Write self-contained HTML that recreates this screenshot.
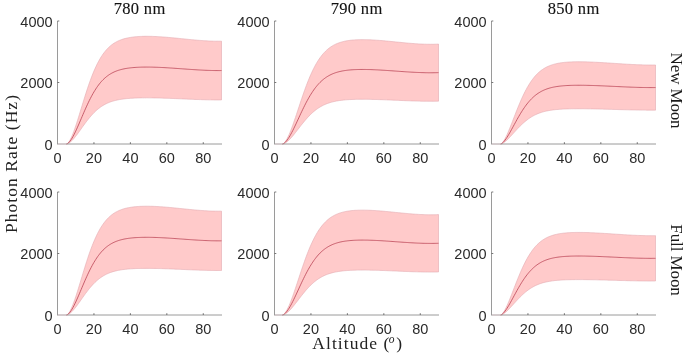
<!DOCTYPE html>
<html><head><meta charset="utf-8"><style>
html,body{margin:0;padding:0;background:#fff;}
svg{display:block;will-change:transform;}
text{-webkit-font-smoothing:antialiased;}
.t{font-family:"Liberation Sans",sans-serif;font-size:14.5px;fill:#2b2b2b;}
.s{font-family:"Liberation Serif",serif;font-size:16.5px;fill:#111;stroke:#111;stroke-width:0.12px;}
.s3{font-family:"Liberation Serif",serif;font-size:17px;fill:#1a1a1a;}
.s2{font-family:"Liberation Serif",serif;font-size:17.5px;fill:#222;}
</style></head><body>
<svg width="685" height="357" viewBox="0 0 685 357">
<rect width="685" height="357" fill="#fff"/>
<polygon points="66.41,144.00 66.61,143.97 67.52,143.43 68.43,142.48 69.34,141.19 70.26,139.62 71.17,137.81 72.08,135.77 72.99,133.55 73.90,131.17 74.81,128.63 75.72,125.98 76.63,123.23 77.54,120.39 78.46,117.49 79.37,114.54 80.28,111.56 81.19,108.57 82.10,105.58 83.01,102.60 83.92,99.64 84.83,96.72 85.74,93.84 86.66,91.02 87.57,88.26 88.48,85.57 89.39,82.95 90.30,80.41 91.21,77.95 92.12,75.58 93.03,73.29 93.94,71.10 94.86,69.00 95.77,66.98 96.68,65.06 97.59,63.23 98.50,61.49 99.41,59.84 100.32,58.27 101.23,56.79 102.14,55.38 103.06,54.06 103.97,52.81 104.88,51.64 105.79,50.53 106.70,49.49 107.61,48.52 108.52,47.61 109.43,46.75 110.34,45.95 111.26,45.21 112.17,44.51 113.08,43.86 113.99,43.25 114.90,42.69 115.81,42.16 116.72,41.67 117.63,41.21 118.54,40.79 119.46,40.39 120.37,40.03 121.28,39.69 122.19,39.37 123.10,39.08 124.01,38.81 124.92,38.56 125.83,38.33 126.74,38.12 127.66,37.92 128.57,37.74 129.48,37.57 130.39,37.42 131.30,37.28 132.21,37.15 133.12,37.03 134.03,36.93 134.94,36.83 135.86,36.75 136.77,36.67 137.68,36.60 138.59,36.54 139.50,36.49 140.41,36.44 141.32,36.40 142.23,36.37 143.14,36.35 144.06,36.33 144.97,36.31 145.88,36.31 146.79,36.30 147.70,36.31 148.61,36.32 149.52,36.33 150.43,36.35 151.34,36.37 152.26,36.39 153.17,36.43 154.08,36.46 154.99,36.50 155.90,36.54 156.81,36.58 157.72,36.63 158.63,36.69 159.54,36.74 160.46,36.80 161.37,36.86 162.28,36.92 163.19,36.99 164.10,37.06 165.01,37.13 165.92,37.20 166.83,37.28 167.74,37.35 168.66,37.43 169.57,37.51 170.48,37.60 171.39,37.68 172.30,37.77 173.21,37.85 174.12,37.94 175.03,38.03 175.94,38.12 176.86,38.21 177.77,38.30 178.68,38.39 179.59,38.48 180.50,38.58 181.41,38.67 182.32,38.76 183.23,38.85 184.14,38.95 185.06,39.04 185.97,39.13 186.88,39.22 187.79,39.31 188.70,39.40 189.61,39.49 190.52,39.58 191.43,39.67 192.34,39.75 193.26,39.84 194.17,39.92 195.08,40.00 195.99,40.08 196.90,40.16 197.81,40.24 198.72,40.31 199.63,40.38 200.54,40.45 201.46,40.52 202.37,40.58 203.28,40.65 204.19,40.71 205.10,40.76 206.01,40.82 206.92,40.87 207.83,40.92 208.74,40.96 209.66,41.00 210.57,41.04 211.48,41.07 212.39,41.10 213.30,41.13 214.21,41.15 215.12,41.17 216.03,41.19 216.94,41.20 217.86,41.20 218.77,41.20 219.68,41.20 220.59,41.19 221.50,41.17 221.50,99.93 220.59,99.94 219.68,99.94 218.77,99.94 217.86,99.94 216.94,99.94 216.03,99.94 215.12,99.93 214.21,99.92 213.30,99.91 212.39,99.90 211.48,99.89 210.57,99.87 209.66,99.86 208.74,99.84 207.83,99.82 206.92,99.80 206.01,99.78 205.10,99.76 204.19,99.73 203.28,99.71 202.37,99.68 201.46,99.65 200.54,99.62 199.63,99.59 198.72,99.56 197.81,99.53 196.90,99.50 195.99,99.46 195.08,99.43 194.17,99.39 193.26,99.36 192.34,99.32 191.43,99.29 190.52,99.25 189.61,99.21 188.70,99.17 187.79,99.13 186.88,99.09 185.97,99.06 185.06,99.02 184.14,98.98 183.23,98.94 182.32,98.90 181.41,98.86 180.50,98.82 179.59,98.78 178.68,98.74 177.77,98.70 176.86,98.66 175.94,98.62 175.03,98.58 174.12,98.55 173.21,98.51 172.30,98.47 171.39,98.43 170.48,98.40 169.57,98.36 168.66,98.33 167.74,98.29 166.83,98.26 165.92,98.23 165.01,98.20 164.10,98.17 163.19,98.14 162.28,98.11 161.37,98.08 160.46,98.06 159.54,98.03 158.63,98.01 157.72,97.99 156.81,97.96 155.90,97.95 154.99,97.93 154.08,97.91 153.17,97.90 152.26,97.88 151.34,97.87 150.43,97.86 149.52,97.86 148.61,97.85 147.70,97.85 146.79,97.84 145.88,97.85 144.97,97.85 144.06,97.85 143.14,97.86 142.23,97.87 141.32,97.89 140.41,97.90 139.50,97.92 138.59,97.95 137.68,97.97 136.77,98.00 135.86,98.03 134.94,98.07 134.03,98.11 133.12,98.16 132.21,98.21 131.30,98.26 130.39,98.32 129.48,98.39 128.57,98.46 127.66,98.54 126.74,98.62 125.83,98.71 124.92,98.81 124.01,98.92 123.10,99.04 122.19,99.16 121.28,99.30 120.37,99.44 119.46,99.60 118.54,99.77 117.63,99.95 116.72,100.14 115.81,100.35 114.90,100.58 113.99,100.82 113.08,101.08 112.17,101.36 111.26,101.66 110.34,101.98 109.43,102.32 108.52,102.69 107.61,103.08 106.70,103.50 105.79,103.94 104.88,104.42 103.97,104.92 103.06,105.45 102.14,106.02 101.23,106.62 100.32,107.26 99.41,107.93 98.50,108.64 97.59,109.39 96.68,110.17 95.77,110.99 94.86,111.86 93.94,112.76 93.03,113.70 92.12,114.68 91.21,115.69 90.30,116.75 89.39,117.83 88.48,118.96 87.57,120.11 86.66,121.29 85.74,122.50 84.83,123.74 83.92,124.99 83.01,126.26 82.10,127.53 81.19,128.82 80.28,130.10 79.37,131.38 78.46,132.64 77.54,133.88 76.63,135.10 75.72,136.28 74.81,137.41 73.90,138.50 72.99,139.52 72.08,140.47 71.17,141.35 70.26,142.12 69.34,142.80 68.43,143.35 67.52,143.76 66.61,143.99 66.41,144.00" fill="#ffcaca" stroke="#e2a9b0" stroke-width="0.6"/>
<polyline points="66.41,144.00 66.61,143.98 67.52,143.59 68.43,142.91 69.34,141.99 70.26,140.87 71.17,139.58 72.08,138.12 72.99,136.54 73.90,134.83 74.81,133.02 75.72,131.13 76.63,129.16 77.54,127.14 78.46,125.06 79.37,122.96 80.28,120.83 81.19,118.69 82.10,116.56 83.01,114.43 83.92,112.32 84.83,110.23 85.74,108.17 86.66,106.16 87.57,104.19 88.48,102.26 89.39,100.39 90.30,98.58 91.21,96.82 92.12,95.13 93.03,93.50 93.94,91.93 94.86,90.43 95.77,88.99 96.68,87.62 97.59,86.31 98.50,85.07 99.41,83.88 100.32,82.76 101.23,81.70 102.14,80.70 103.06,79.76 103.97,78.87 104.88,78.03 105.79,77.24 106.70,76.50 107.61,75.80 108.52,75.15 109.43,74.54 110.34,73.97 111.26,73.43 112.17,72.94 113.08,72.47 113.99,72.04 114.90,71.63 115.81,71.26 116.72,70.91 117.63,70.58 118.54,70.28 119.46,70.00 120.37,69.74 121.28,69.49 122.19,69.27 123.10,69.06 124.01,68.87 124.92,68.69 125.83,68.52 126.74,68.37 127.66,68.23 128.57,68.10 129.48,67.98 130.39,67.87 131.30,67.77 132.21,67.68 133.12,67.60 134.03,67.52 134.94,67.45 135.86,67.39 136.77,67.33 137.68,67.29 138.59,67.24 139.50,67.20 140.41,67.17 141.32,67.14 142.23,67.12 143.14,67.10 144.06,67.09 144.97,67.08 145.88,67.08 146.79,67.07 147.70,67.08 148.61,67.08 149.52,67.09 150.43,67.10 151.34,67.12 152.26,67.14 153.17,67.16 154.08,67.19 154.99,67.21 155.90,67.24 156.81,67.27 157.72,67.31 158.63,67.35 159.54,67.39 160.46,67.43 161.37,67.47 162.28,67.52 163.19,67.56 164.10,67.61 165.01,67.66 165.92,67.72 166.83,67.77 167.74,67.82 168.66,67.88 169.57,67.94 170.48,68.00 171.39,68.06 172.30,68.12 173.21,68.18 174.12,68.24 175.03,68.31 175.94,68.37 176.86,68.43 177.77,68.50 178.68,68.56 179.59,68.63 180.50,68.70 181.41,68.76 182.32,68.83 183.23,68.90 184.14,68.96 185.06,69.03 185.97,69.09 186.88,69.16 187.79,69.22 188.70,69.29 189.61,69.35 190.52,69.41 191.43,69.48 192.34,69.54 193.26,69.60 194.17,69.66 195.08,69.72 195.99,69.77 196.90,69.83 197.81,69.88 198.72,69.94 199.63,69.99 200.54,70.04 201.46,70.09 202.37,70.13 203.28,70.18 204.19,70.22 205.10,70.26 206.01,70.30 206.92,70.34 207.83,70.37 208.74,70.40 209.66,70.43 210.57,70.46 211.48,70.48 212.39,70.50 213.30,70.52 214.21,70.54 215.12,70.55 216.03,70.56 216.94,70.57 217.86,70.57 218.77,70.57 219.68,70.57 220.59,70.56 221.50,70.55" fill="none" stroke="#b53a4c" stroke-width="0.75"/>
<path d="M57.50,21.00 V144.50 M66.41,144.00 H222.00" fill="none" stroke="#9a9a9a" stroke-width="1"/>
<path d="M58.00,144.00 H66.41" fill="none" stroke="#a8989c" stroke-width="1"/>
<path d="M93.94,144.00 v-1.8 M130.39,144.00 v-1.8 M166.83,144.00 v-1.8 M203.28,144.00 v-1.8 M57.50,82.50 h1.8 M57.50,21.00 h1.8" stroke="#555" stroke-width="0.8" fill="none"/>
<text x="57.50" y="163.40" text-anchor="middle" class="t">0</text>
<text x="93.94" y="163.40" text-anchor="middle" class="t">20</text>
<text x="130.39" y="163.40" text-anchor="middle" class="t">40</text>
<text x="166.83" y="163.40" text-anchor="middle" class="t">60</text>
<text x="203.28" y="163.40" text-anchor="middle" class="t">80</text>
<text x="52.60" y="149.70" text-anchor="end" class="t">0</text>
<text x="52.60" y="88.20" text-anchor="end" class="t">2000</text>
<text x="52.60" y="26.70" text-anchor="end" class="t">4000</text>
<polygon points="282.36,144.00 282.70,143.93 283.61,143.40 284.52,142.53 285.43,141.37 286.34,139.97 287.26,138.36 288.17,136.55 289.08,134.57 289.99,132.44 290.90,130.17 291.81,127.79 292.72,125.32 293.63,122.75 294.54,120.12 295.46,117.44 296.37,114.72 297.28,111.97 298.19,109.21 299.10,106.45 300.01,103.70 300.92,100.97 301.83,98.27 302.74,95.60 303.66,92.98 304.57,90.41 305.48,87.90 306.39,85.45 307.30,83.06 308.21,80.75 309.12,78.51 310.03,76.34 310.94,74.26 311.86,72.25 312.77,70.32 313.68,68.48 314.59,66.71 315.50,65.02 316.41,63.41 317.32,61.88 318.23,60.42 319.14,59.04 320.06,57.73 320.97,56.49 321.88,55.31 322.79,54.21 323.70,53.16 324.61,52.18 325.52,51.25 326.43,50.39 327.34,49.57 328.26,48.80 329.17,48.09 330.08,47.42 330.99,46.79 331.90,46.20 332.81,45.65 333.72,45.14 334.63,44.67 335.54,44.23 336.46,43.81 337.37,43.43 338.28,43.08 339.19,42.75 340.10,42.44 341.01,42.16 341.92,41.90 342.83,41.66 343.74,41.43 344.66,41.23 345.57,41.04 346.48,40.87 347.39,40.71 348.30,40.57 349.21,40.44 350.12,40.32 351.03,40.21 351.94,40.12 352.86,40.03 353.77,39.96 354.68,39.89 355.59,39.84 356.50,39.79 357.41,39.75 358.32,39.71 359.23,39.69 360.14,39.67 361.06,39.65 361.97,39.65 362.88,39.65 363.79,39.65 364.70,39.66 365.61,39.68 366.52,39.70 367.43,39.72 368.34,39.75 369.26,39.79 370.17,39.82 371.08,39.86 371.99,39.91 372.90,39.96 373.81,40.01 374.72,40.07 375.63,40.13 376.54,40.19 377.46,40.25 378.37,40.32 379.28,40.39 380.19,40.46 381.10,40.54 382.01,40.61 382.92,40.69 383.83,40.77 384.74,40.85 385.66,40.94 386.57,41.02 387.48,41.11 388.39,41.19 389.30,41.28 390.21,41.37 391.12,41.46 392.03,41.55 392.94,41.64 393.86,41.73 394.77,41.83 395.68,41.92 396.59,42.01 397.50,42.10 398.41,42.19 399.32,42.28 400.23,42.37 401.14,42.46 402.06,42.55 402.97,42.64 403.88,42.73 404.79,42.82 405.70,42.90 406.61,42.98 407.52,43.07 408.43,43.15 409.34,43.23 410.26,43.30 411.17,43.38 412.08,43.45 412.99,43.52 413.90,43.59 414.81,43.65 415.72,43.72 416.63,43.78 417.54,43.84 418.46,43.89 419.37,43.94 420.28,43.99 421.19,44.03 422.10,44.08 423.01,44.11 423.92,44.15 424.83,44.18 425.74,44.20 426.66,44.22 427.57,44.24 428.48,44.26 429.39,44.26 430.30,44.27 431.21,44.27 432.12,44.26 433.03,44.25 433.94,44.24 434.86,44.21 435.77,44.19 436.68,44.16 437.59,44.12 438.50,44.08 438.50,101.18 437.59,101.19 436.68,101.21 435.77,101.22 434.86,101.23 433.94,101.24 433.03,101.25 432.12,101.26 431.21,101.26 430.30,101.26 429.39,101.26 428.48,101.25 427.57,101.25 426.66,101.24 425.74,101.23 424.83,101.22 423.92,101.21 423.01,101.19 422.10,101.18 421.19,101.16 420.28,101.14 419.37,101.12 418.46,101.10 417.54,101.07 416.63,101.05 415.72,101.02 414.81,100.99 413.90,100.97 412.99,100.94 412.08,100.91 411.17,100.88 410.26,100.84 409.34,100.81 408.43,100.78 407.52,100.74 406.61,100.71 405.70,100.67 404.79,100.64 403.88,100.60 402.97,100.56 402.06,100.52 401.14,100.48 400.23,100.45 399.32,100.41 398.41,100.37 397.50,100.33 396.59,100.29 395.68,100.25 394.77,100.21 393.86,100.17 392.94,100.13 392.03,100.09 391.12,100.05 390.21,100.02 389.30,99.98 388.39,99.94 387.48,99.90 386.57,99.87 385.66,99.83 384.74,99.79 383.83,99.76 382.92,99.72 382.01,99.69 381.10,99.66 380.19,99.63 379.28,99.60 378.37,99.57 377.46,99.54 376.54,99.51 375.63,99.48 374.72,99.46 373.81,99.43 372.90,99.41 371.99,99.39 371.08,99.37 370.17,99.35 369.26,99.34 368.34,99.32 367.43,99.31 366.52,99.30 365.61,99.29 364.70,99.28 363.79,99.28 362.88,99.28 361.97,99.28 361.06,99.28 360.14,99.29 359.23,99.29 358.32,99.31 357.41,99.32 356.50,99.34 355.59,99.36 354.68,99.38 353.77,99.41 352.86,99.44 351.94,99.48 351.03,99.52 350.12,99.57 349.21,99.62 348.30,99.67 347.39,99.73 346.48,99.80 345.57,99.87 344.66,99.96 343.74,100.04 342.83,100.14 341.92,100.24 341.01,100.35 340.10,100.47 339.19,100.61 338.28,100.75 337.37,100.90 336.46,101.06 335.54,101.24 334.63,101.43 333.72,101.63 332.81,101.85 331.90,102.09 330.99,102.34 330.08,102.61 329.17,102.89 328.26,103.20 327.34,103.53 326.43,103.88 325.52,104.25 324.61,104.65 323.70,105.07 322.79,105.52 321.88,105.99 320.97,106.49 320.06,107.03 319.14,107.59 318.23,108.18 317.32,108.80 316.41,109.46 315.50,110.15 314.59,110.88 313.68,111.63 312.77,112.42 311.86,113.25 310.94,114.11 310.03,115.00 309.12,115.93 308.21,116.89 307.30,117.88 306.39,118.91 305.48,119.96 304.57,121.03 303.66,122.13 302.74,123.26 301.83,124.40 300.92,125.56 300.01,126.73 299.10,127.91 298.19,129.09 297.28,130.27 296.37,131.45 295.46,132.62 294.54,133.77 293.63,134.89 292.72,135.99 291.81,137.05 290.90,138.07 289.99,139.05 289.08,139.96 288.17,140.81 287.26,141.58 286.34,142.27 285.43,142.87 284.52,143.37 283.61,143.74 282.70,143.97 282.36,144.00" fill="#ffcaca" stroke="#e2a9b0" stroke-width="0.6"/>
<polyline points="282.36,144.00 282.70,143.95 283.61,143.57 284.52,142.95 285.43,142.12 286.34,141.12 287.26,139.97 288.17,138.68 289.08,137.26 289.99,135.74 290.90,134.12 291.81,132.42 292.72,130.65 293.63,128.82 294.54,126.95 295.46,125.03 296.37,123.09 297.28,121.12 298.19,119.15 299.10,117.18 300.01,115.22 300.92,113.26 301.83,111.33 302.74,109.43 303.66,107.56 304.57,105.72 305.48,103.93 306.39,102.18 307.30,100.47 308.21,98.82 309.12,97.22 310.03,95.67 310.94,94.18 311.86,92.75 312.77,91.37 313.68,90.05 314.59,88.79 315.50,87.59 316.41,86.44 317.32,85.34 318.23,84.30 319.14,83.31 320.06,82.38 320.97,81.49 321.88,80.65 322.79,79.86 323.70,79.12 324.61,78.41 325.52,77.75 326.43,77.13 327.34,76.55 328.26,76.00 329.17,75.49 330.08,75.01 330.99,74.56 331.90,74.14 332.81,73.75 333.72,73.39 334.63,73.05 335.54,72.73 336.46,72.44 337.37,72.16 338.28,71.91 339.19,71.68 340.10,71.46 341.01,71.26 341.92,71.07 342.83,70.90 343.74,70.74 344.66,70.59 345.57,70.46 346.48,70.33 347.39,70.22 348.30,70.12 349.21,70.03 350.12,69.94 351.03,69.87 351.94,69.80 352.86,69.74 353.77,69.68 354.68,69.64 355.59,69.60 356.50,69.56 357.41,69.53 358.32,69.51 359.23,69.49 360.14,69.48 361.06,69.47 361.97,69.46 362.88,69.46 363.79,69.47 364.70,69.47 365.61,69.48 366.52,69.50 367.43,69.52 368.34,69.54 369.26,69.56 370.17,69.59 371.08,69.62 371.99,69.65 372.90,69.69 373.81,69.72 374.72,69.76 375.63,69.80 376.54,69.85 377.46,69.89 378.37,69.94 379.28,69.99 380.19,70.04 381.10,70.10 382.01,70.15 382.92,70.21 383.83,70.26 384.74,70.32 385.66,70.38 386.57,70.44 387.48,70.50 388.39,70.57 389.30,70.63 390.21,70.69 391.12,70.76 392.03,70.82 392.94,70.89 393.86,70.95 394.77,71.02 395.68,71.08 396.59,71.15 397.50,71.21 398.41,71.28 399.32,71.35 400.23,71.41 401.14,71.47 402.06,71.54 402.97,71.60 403.88,71.66 404.79,71.73 405.70,71.79 406.61,71.85 407.52,71.90 408.43,71.96 409.34,72.02 410.26,72.07 411.17,72.13 412.08,72.18 412.99,72.23 413.90,72.28 414.81,72.32 415.72,72.37 416.63,72.41 417.54,72.45 418.46,72.49 419.37,72.53 420.28,72.56 421.19,72.60 422.10,72.63 423.01,72.65 423.92,72.68 424.83,72.70 425.74,72.72 426.66,72.73 427.57,72.74 428.48,72.75 429.39,72.76 430.30,72.76 431.21,72.76 432.12,72.76 433.03,72.75 433.94,72.74 434.86,72.72 435.77,72.71 436.68,72.68 437.59,72.66 438.50,72.63" fill="none" stroke="#b53a4c" stroke-width="0.75"/>
<path d="M274.50,21.00 V144.50 M282.36,144.00 H439.00" fill="none" stroke="#9a9a9a" stroke-width="1"/>
<path d="M275.00,144.00 H282.36" fill="none" stroke="#a8989c" stroke-width="1"/>
<path d="M310.94,144.00 v-1.8 M347.39,144.00 v-1.8 M383.83,144.00 v-1.8 M420.28,144.00 v-1.8 M274.50,82.50 h1.8 M274.50,21.00 h1.8" stroke="#555" stroke-width="0.8" fill="none"/>
<text x="274.50" y="163.40" text-anchor="middle" class="t">0</text>
<text x="310.94" y="163.40" text-anchor="middle" class="t">20</text>
<text x="347.39" y="163.40" text-anchor="middle" class="t">40</text>
<text x="383.83" y="163.40" text-anchor="middle" class="t">60</text>
<text x="420.28" y="163.40" text-anchor="middle" class="t">80</text>
<text x="269.60" y="149.70" text-anchor="end" class="t">0</text>
<text x="269.60" y="88.20" text-anchor="end" class="t">2000</text>
<text x="269.60" y="26.70" text-anchor="end" class="t">4000</text>
<polygon points="500.61,144.00 501.52,143.54 502.43,142.65 503.34,141.46 504.26,140.04 505.17,138.42 506.08,136.64 506.99,134.72 507.90,132.69 508.81,130.56 509.72,128.36 510.63,126.09 511.54,123.79 512.46,121.46 513.37,119.11 514.28,116.76 515.19,114.42 516.10,112.09 517.01,109.79 517.92,107.53 518.83,105.31 519.74,103.13 520.66,101.01 521.57,98.94 522.48,96.94 523.39,94.99 524.30,93.12 525.21,91.31 526.12,89.57 527.03,87.91 527.94,86.31 528.86,84.79 529.77,83.33 530.68,81.94 531.59,80.62 532.50,79.37 533.41,78.19 534.32,77.06 535.23,76.00 536.14,75.00 537.06,74.05 537.97,73.16 538.88,72.33 539.79,71.54 540.70,70.81 541.61,70.12 542.52,69.47 543.43,68.86 544.34,68.30 545.26,67.77 546.17,67.28 547.08,66.82 547.99,66.40 548.90,66.00 549.81,65.63 550.72,65.29 551.63,64.97 552.54,64.67 553.46,64.40 554.37,64.15 555.28,63.91 556.19,63.70 557.10,63.50 558.01,63.32 558.92,63.15 559.83,62.99 560.74,62.85 561.66,62.72 562.57,62.60 563.48,62.49 564.39,62.39 565.30,62.30 566.21,62.22 567.12,62.15 568.03,62.08 568.94,62.02 569.86,61.97 570.77,61.93 571.68,61.89 572.59,61.86 573.50,61.83 574.41,61.80 575.32,61.79 576.23,61.77 577.14,61.76 578.06,61.76 578.97,61.75 579.88,61.76 580.79,61.76 581.70,61.77 582.61,61.78 583.52,61.80 584.43,61.82 585.34,61.84 586.26,61.86 587.17,61.89 588.08,61.92 588.99,61.95 589.90,61.98 590.81,62.02 591.72,62.05 592.63,62.09 593.54,62.13 594.46,62.18 595.37,62.22 596.28,62.27 597.19,62.31 598.10,62.36 599.01,62.41 599.92,62.46 600.83,62.52 601.74,62.57 602.66,62.62 603.57,62.68 604.48,62.74 605.39,62.79 606.30,62.85 607.21,62.91 608.12,62.97 609.03,63.03 609.94,63.09 610.86,63.15 611.77,63.21 612.68,63.27 613.59,63.33 614.50,63.39 615.41,63.45 616.32,63.51 617.23,63.57 618.14,63.63 619.06,63.69 619.97,63.75 620.88,63.81 621.79,63.87 622.70,63.93 623.61,63.98 624.52,64.04 625.43,64.09 626.34,64.15 627.26,64.20 628.17,64.25 629.08,64.30 629.99,64.35 630.90,64.40 631.81,64.45 632.72,64.50 633.63,64.54 634.54,64.58 635.46,64.62 636.37,64.66 637.28,64.70 638.19,64.74 639.10,64.77 640.01,64.80 640.92,64.83 641.83,64.86 642.74,64.89 643.66,64.91 644.57,64.93 645.48,64.95 646.39,64.96 647.30,64.98 648.21,64.99 649.12,65.00 650.03,65.00 650.94,65.00 651.86,65.00 652.77,65.00 653.68,64.99 654.59,64.98 655.50,64.97 655.50,110.13 654.59,110.13 653.68,110.14 652.77,110.14 651.86,110.14 650.94,110.14 650.03,110.14 649.12,110.14 648.21,110.14 647.30,110.13 646.39,110.13 645.48,110.12 644.57,110.11 643.66,110.10 642.74,110.09 641.83,110.08 640.92,110.07 640.01,110.06 639.10,110.05 638.19,110.03 637.28,110.02 636.37,110.00 635.46,109.98 634.54,109.96 633.63,109.95 632.72,109.93 631.81,109.91 630.90,109.89 629.99,109.87 629.08,109.84 628.17,109.82 627.26,109.80 626.34,109.78 625.43,109.75 624.52,109.73 623.61,109.71 622.70,109.68 621.79,109.66 620.88,109.63 619.97,109.61 619.06,109.58 618.14,109.56 617.23,109.53 616.32,109.50 615.41,109.48 614.50,109.45 613.59,109.43 612.68,109.40 611.77,109.37 610.86,109.35 609.94,109.32 609.03,109.30 608.12,109.27 607.21,109.25 606.30,109.22 605.39,109.20 604.48,109.17 603.57,109.15 602.66,109.12 601.74,109.10 600.83,109.08 599.92,109.06 599.01,109.03 598.10,109.01 597.19,108.99 596.28,108.97 595.37,108.95 594.46,108.93 593.54,108.91 592.63,108.90 591.72,108.88 590.81,108.86 589.90,108.85 588.99,108.83 588.08,108.82 587.17,108.81 586.26,108.80 585.34,108.79 584.43,108.78 583.52,108.77 582.61,108.76 581.70,108.76 580.79,108.76 579.88,108.75 578.97,108.75 578.06,108.75 577.14,108.76 576.23,108.76 575.32,108.77 574.41,108.77 573.50,108.78 572.59,108.80 571.68,108.81 570.77,108.83 569.86,108.85 568.94,108.87 568.03,108.89 567.12,108.92 566.21,108.95 565.30,108.99 564.39,109.03 563.48,109.07 562.57,109.11 561.66,109.17 560.74,109.22 559.83,109.28 558.92,109.35 558.01,109.42 557.10,109.50 556.19,109.59 555.28,109.68 554.37,109.78 553.46,109.89 552.54,110.00 551.63,110.13 550.72,110.27 549.81,110.41 548.90,110.57 547.99,110.74 547.08,110.92 546.17,111.12 545.26,111.33 544.34,111.56 543.43,111.80 542.52,112.06 541.61,112.34 540.70,112.63 539.79,112.95 538.88,113.28 537.97,113.64 537.06,114.02 536.14,114.43 535.23,114.86 534.32,115.31 533.41,115.79 532.50,116.30 531.59,116.84 530.68,117.40 529.77,118.00 528.86,118.62 527.94,119.28 527.03,119.96 526.12,120.67 525.21,121.42 524.30,122.19 523.39,123.00 522.48,123.83 521.57,124.69 520.66,125.57 519.74,126.48 518.83,127.42 517.92,128.37 517.01,129.34 516.10,130.33 515.19,131.32 514.28,132.33 513.37,133.33 512.46,134.34 511.54,135.34 510.63,136.33 509.72,137.30 508.81,138.24 507.90,139.15 506.99,140.02 506.08,140.84 505.17,141.61 504.26,142.30 503.34,142.91 502.43,143.42 501.52,143.80 500.61,144.00" fill="#ffcaca" stroke="#e2a9b0" stroke-width="0.6"/>
<polyline points="500.61,144.00 501.52,143.67 502.43,143.03 503.34,142.18 504.26,141.17 505.17,140.01 506.08,138.74 506.99,137.37 507.90,135.92 508.81,134.40 509.72,132.83 510.63,131.21 511.54,129.57 512.46,127.90 513.37,126.22 514.28,124.54 515.19,122.87 516.10,121.21 517.01,119.57 517.92,117.95 518.83,116.36 519.74,114.81 520.66,113.29 521.57,111.81 522.48,110.38 523.39,109.00 524.30,107.66 525.21,106.37 526.12,105.12 527.03,103.93 527.94,102.79 528.86,101.70 529.77,100.66 530.68,99.67 531.59,98.73 532.50,97.84 533.41,96.99 534.32,96.19 535.23,95.43 536.14,94.71 537.06,94.04 537.97,93.40 538.88,92.81 539.79,92.25 540.70,91.72 541.61,91.23 542.52,90.76 543.43,90.33 544.34,89.93 545.26,89.55 546.17,89.20 547.08,88.87 547.99,88.57 548.90,88.28 549.81,88.02 550.72,87.78 551.63,87.55 552.54,87.34 553.46,87.14 554.37,86.96 555.28,86.80 556.19,86.64 557.10,86.50 558.01,86.37 558.92,86.25 559.83,86.14 560.74,86.04 561.66,85.94 562.57,85.86 563.48,85.78 564.39,85.71 565.30,85.64 566.21,85.59 567.12,85.53 568.03,85.49 568.94,85.45 569.86,85.41 570.77,85.38 571.68,85.35 572.59,85.33 573.50,85.30 574.41,85.29 575.32,85.28 576.23,85.27 577.14,85.26 578.06,85.25 578.97,85.25 579.88,85.25 580.79,85.26 581.70,85.27 582.61,85.27 583.52,85.28 584.43,85.30 585.34,85.31 586.26,85.33 587.17,85.35 588.08,85.37 588.99,85.39 589.90,85.41 590.81,85.44 591.72,85.47 592.63,85.49 593.54,85.52 594.46,85.55 595.37,85.59 596.28,85.62 597.19,85.65 598.10,85.69 599.01,85.72 599.92,85.76 600.83,85.80 601.74,85.84 602.66,85.87 603.57,85.91 604.48,85.95 605.39,86.00 606.30,86.04 607.21,86.08 608.12,86.12 609.03,86.16 609.94,86.21 610.86,86.25 611.77,86.29 612.68,86.33 613.59,86.38 614.50,86.42 615.41,86.46 616.32,86.51 617.23,86.55 618.14,86.59 619.06,86.64 619.97,86.68 620.88,86.72 621.79,86.76 622.70,86.80 623.61,86.84 624.52,86.88 625.43,86.92 626.34,86.96 627.26,87.00 628.17,87.04 629.08,87.07 629.99,87.11 630.90,87.15 631.81,87.18 632.72,87.21 633.63,87.24 634.54,87.27 635.46,87.30 636.37,87.33 637.28,87.36 638.19,87.38 639.10,87.41 640.01,87.43 640.92,87.45 641.83,87.47 642.74,87.49 643.66,87.51 644.57,87.52 645.48,87.53 646.39,87.55 647.30,87.56 648.21,87.56 649.12,87.57 650.03,87.57 650.94,87.57 651.86,87.57 652.77,87.57 653.68,87.57 654.59,87.56 655.50,87.55" fill="none" stroke="#b53a4c" stroke-width="0.75"/>
<path d="M491.50,21.00 V144.50 M500.61,144.00 H656.00" fill="none" stroke="#9a9a9a" stroke-width="1"/>
<path d="M492.00,144.00 H500.61" fill="none" stroke="#a8989c" stroke-width="1"/>
<path d="M527.94,144.00 v-1.8 M564.39,144.00 v-1.8 M600.83,144.00 v-1.8 M637.28,144.00 v-1.8 M491.50,82.50 h1.8 M491.50,21.00 h1.8" stroke="#555" stroke-width="0.8" fill="none"/>
<text x="491.50" y="163.40" text-anchor="middle" class="t">0</text>
<text x="527.94" y="163.40" text-anchor="middle" class="t">20</text>
<text x="564.39" y="163.40" text-anchor="middle" class="t">40</text>
<text x="600.83" y="163.40" text-anchor="middle" class="t">60</text>
<text x="637.28" y="163.40" text-anchor="middle" class="t">80</text>
<text x="486.60" y="149.70" text-anchor="end" class="t">0</text>
<text x="486.60" y="88.20" text-anchor="end" class="t">2000</text>
<text x="486.60" y="26.70" text-anchor="end" class="t">4000</text>
<polygon points="66.41,315.00 66.61,314.97 67.52,314.43 68.43,313.46 69.34,312.16 70.26,310.58 71.17,308.74 72.08,306.69 72.99,304.45 73.90,302.04 74.81,299.48 75.72,296.80 76.63,294.02 77.54,291.15 78.46,288.22 79.37,285.25 80.28,282.24 81.19,279.22 82.10,276.20 83.01,273.18 83.92,270.20 84.83,267.25 85.74,264.34 86.66,261.49 87.57,258.70 88.48,255.98 89.39,253.34 90.30,250.77 91.21,248.29 92.12,245.89 93.03,243.59 93.94,241.37 94.86,239.25 95.77,237.21 96.68,235.27 97.59,233.43 98.50,231.67 99.41,230.00 100.32,228.41 101.23,226.91 102.14,225.50 103.06,224.16 103.97,222.90 104.88,221.71 105.79,220.60 106.70,219.55 107.61,218.57 108.52,217.64 109.43,216.78 110.34,215.97 111.26,215.22 112.17,214.52 113.08,213.86 113.99,213.24 114.90,212.67 115.81,212.14 116.72,211.65 117.63,211.19 118.54,210.76 119.46,210.36 120.37,209.99 121.28,209.65 122.19,209.33 123.10,209.03 124.01,208.76 124.92,208.51 125.83,208.27 126.74,208.06 127.66,207.86 128.57,207.68 129.48,207.51 130.39,207.35 131.30,207.21 132.21,207.08 133.12,206.96 134.03,206.86 134.94,206.76 135.86,206.67 136.77,206.60 137.68,206.53 138.59,206.46 139.50,206.41 140.41,206.37 141.32,206.33 142.23,206.30 143.14,206.27 144.06,206.25 144.97,206.24 145.88,206.23 146.79,206.23 147.70,206.23 148.61,206.24 149.52,206.25 150.43,206.27 151.34,206.29 152.26,206.32 153.17,206.35 154.08,206.38 154.99,206.42 155.90,206.46 156.81,206.51 157.72,206.56 158.63,206.61 159.54,206.67 160.46,206.73 161.37,206.79 162.28,206.85 163.19,206.92 164.10,206.99 165.01,207.06 165.92,207.13 166.83,207.21 167.74,207.29 168.66,207.37 169.57,207.45 170.48,207.53 171.39,207.62 172.30,207.70 173.21,207.79 174.12,207.88 175.03,207.97 175.94,208.06 176.86,208.15 177.77,208.24 178.68,208.33 179.59,208.43 180.50,208.52 181.41,208.61 182.32,208.71 183.23,208.80 184.14,208.89 185.06,208.99 185.97,209.08 186.88,209.17 187.79,209.26 188.70,209.36 189.61,209.45 190.52,209.53 191.43,209.62 192.34,209.71 193.26,209.79 194.17,209.88 195.08,209.96 195.99,210.04 196.90,210.12 197.81,210.20 198.72,210.27 199.63,210.35 200.54,210.42 201.46,210.48 202.37,210.55 203.28,210.61 204.19,210.67 205.10,210.73 206.01,210.79 206.92,210.84 207.83,210.89 208.74,210.93 209.66,210.97 210.57,211.01 211.48,211.05 212.39,211.08 213.30,211.10 214.21,211.12 215.12,211.14 216.03,211.16 216.94,211.17 217.86,211.17 218.77,211.17 219.68,211.17 220.59,211.16 221.50,211.15 221.50,270.49 220.59,270.50 219.68,270.50 218.77,270.50 217.86,270.50 216.94,270.50 216.03,270.50 215.12,270.49 214.21,270.48 213.30,270.47 212.39,270.46 211.48,270.45 210.57,270.43 209.66,270.42 208.74,270.40 207.83,270.38 206.92,270.36 206.01,270.34 205.10,270.31 204.19,270.29 203.28,270.26 202.37,270.24 201.46,270.21 200.54,270.18 199.63,270.15 198.72,270.12 197.81,270.08 196.90,270.05 195.99,270.02 195.08,269.98 194.17,269.95 193.26,269.91 192.34,269.88 191.43,269.84 190.52,269.80 189.61,269.76 188.70,269.72 187.79,269.68 186.88,269.65 185.97,269.61 185.06,269.57 184.14,269.53 183.23,269.49 182.32,269.45 181.41,269.41 180.50,269.37 179.59,269.33 178.68,269.29 177.77,269.25 176.86,269.21 175.94,269.17 175.03,269.13 174.12,269.09 173.21,269.05 172.30,269.02 171.39,268.98 170.48,268.94 169.57,268.91 168.66,268.87 167.74,268.84 166.83,268.80 165.92,268.77 165.01,268.74 164.10,268.71 163.19,268.68 162.28,268.65 161.37,268.62 160.46,268.60 159.54,268.57 158.63,268.55 157.72,268.53 156.81,268.50 155.90,268.48 154.99,268.47 154.08,268.45 153.17,268.44 152.26,268.42 151.34,268.41 150.43,268.40 149.52,268.39 148.61,268.39 147.70,268.38 146.79,268.38 145.88,268.38 144.97,268.39 144.06,268.39 143.14,268.40 142.23,268.41 141.32,268.43 140.41,268.44 139.50,268.46 138.59,268.48 137.68,268.51 136.77,268.54 135.86,268.57 134.94,268.61 134.03,268.65 133.12,268.70 132.21,268.75 131.30,268.81 130.39,268.87 129.48,268.93 128.57,269.00 127.66,269.08 126.74,269.17 125.83,269.26 124.92,269.36 124.01,269.47 123.10,269.59 122.19,269.71 121.28,269.85 120.37,270.00 119.46,270.15 118.54,270.32 117.63,270.51 116.72,270.71 115.81,270.92 114.90,271.15 113.99,271.39 113.08,271.65 112.17,271.94 111.26,272.24 110.34,272.56 109.43,272.91 108.52,273.28 107.61,273.67 106.70,274.09 105.79,274.54 104.88,275.02 103.97,275.53 103.06,276.07 102.14,276.64 101.23,277.25 100.32,277.89 99.41,278.57 98.50,279.29 97.59,280.04 96.68,280.83 95.77,281.66 94.86,282.53 93.94,283.44 93.03,284.39 92.12,285.38 91.21,286.41 90.30,287.47 89.39,288.57 88.48,289.71 87.57,290.87 86.66,292.07 85.74,293.29 84.83,294.53 83.92,295.80 83.01,297.08 82.10,298.37 81.19,299.66 80.28,300.96 79.37,302.25 78.46,303.52 77.54,304.78 76.63,306.01 75.72,307.20 74.81,308.35 73.90,309.44 72.99,310.48 72.08,311.44 71.17,312.32 70.26,313.10 69.34,313.78 68.43,314.34 67.52,314.75 66.61,314.99 66.41,315.00" fill="#ffcaca" stroke="#e2a9b0" stroke-width="0.6"/>
<polyline points="66.41,315.00 66.61,314.98 67.52,314.59 68.43,313.90 69.34,312.97 70.26,311.84 71.17,310.53 72.08,309.07 72.99,307.46 73.90,305.74 74.81,303.91 75.72,302.00 76.63,300.01 77.54,297.97 78.46,295.87 79.37,293.75 80.28,291.60 81.19,289.44 82.10,287.28 83.01,285.13 83.92,283.00 84.83,280.89 85.74,278.82 86.66,276.78 87.57,274.79 88.48,272.84 89.39,270.95 90.30,269.12 91.21,267.35 92.12,265.64 93.03,263.99 93.94,262.41 94.86,260.89 95.77,259.44 96.68,258.05 97.59,256.73 98.50,255.48 99.41,254.28 100.32,253.15 101.23,252.08 102.14,251.07 103.06,250.11 103.97,249.21 104.88,248.37 105.79,247.57 106.70,246.82 107.61,246.12 108.52,245.46 109.43,244.84 110.34,244.27 111.26,243.73 112.17,243.23 113.08,242.76 113.99,242.32 114.90,241.91 115.81,241.53 116.72,241.18 117.63,240.85 118.54,240.54 119.46,240.26 120.37,239.99 121.28,239.75 122.19,239.52 123.10,239.31 124.01,239.11 124.92,238.93 125.83,238.77 126.74,238.61 127.66,238.47 128.57,238.34 129.48,238.22 130.39,238.11 131.30,238.01 132.21,237.92 133.12,237.83 134.03,237.76 134.94,237.69 135.86,237.62 136.77,237.57 137.68,237.52 138.59,237.47 139.50,237.44 140.41,237.40 141.32,237.38 142.23,237.35 143.14,237.34 144.06,237.32 144.97,237.31 145.88,237.31 146.79,237.31 147.70,237.31 148.61,237.31 149.52,237.32 150.43,237.34 151.34,237.35 152.26,237.37 153.17,237.39 154.08,237.42 154.99,237.44 155.90,237.47 156.81,237.51 157.72,237.54 158.63,237.58 159.54,237.62 160.46,237.66 161.37,237.71 162.28,237.75 163.19,237.80 164.10,237.85 165.01,237.90 165.92,237.95 166.83,238.01 167.74,238.06 168.66,238.12 169.57,238.18 170.48,238.24 171.39,238.30 172.30,238.36 173.21,238.42 174.12,238.48 175.03,238.55 175.94,238.61 176.86,238.68 177.77,238.74 178.68,238.81 179.59,238.88 180.50,238.94 181.41,239.01 182.32,239.08 183.23,239.14 184.14,239.21 185.06,239.28 185.97,239.34 186.88,239.41 187.79,239.47 188.70,239.54 189.61,239.60 190.52,239.67 191.43,239.73 192.34,239.79 193.26,239.85 194.17,239.91 195.08,239.97 195.99,240.03 196.90,240.09 197.81,240.14 198.72,240.20 199.63,240.25 200.54,240.30 201.46,240.35 202.37,240.39 203.28,240.44 204.19,240.48 205.10,240.52 206.01,240.56 206.92,240.60 207.83,240.63 208.74,240.67 209.66,240.69 210.57,240.72 211.48,240.75 212.39,240.77 213.30,240.79 214.21,240.80 215.12,240.82 216.03,240.83 216.94,240.83 217.86,240.84 218.77,240.84 219.68,240.84 220.59,240.83 221.50,240.82" fill="none" stroke="#b53a4c" stroke-width="0.75"/>
<path d="M57.50,192.00 V315.50 M66.41,315.00 H222.00" fill="none" stroke="#9a9a9a" stroke-width="1"/>
<path d="M58.00,315.00 H66.41" fill="none" stroke="#a8989c" stroke-width="1"/>
<path d="M93.94,315.00 v-1.8 M130.39,315.00 v-1.8 M166.83,315.00 v-1.8 M203.28,315.00 v-1.8 M57.50,253.50 h1.8 M57.50,192.00 h1.8" stroke="#555" stroke-width="0.8" fill="none"/>
<text x="57.50" y="334.40" text-anchor="middle" class="t">0</text>
<text x="93.94" y="334.40" text-anchor="middle" class="t">20</text>
<text x="130.39" y="334.40" text-anchor="middle" class="t">40</text>
<text x="166.83" y="334.40" text-anchor="middle" class="t">60</text>
<text x="203.28" y="334.40" text-anchor="middle" class="t">80</text>
<text x="52.60" y="320.70" text-anchor="end" class="t">0</text>
<text x="52.60" y="259.20" text-anchor="end" class="t">2000</text>
<text x="52.60" y="197.70" text-anchor="end" class="t">4000</text>
<polygon points="282.36,315.00 282.70,314.93 283.61,314.40 284.52,313.52 285.43,312.36 286.34,310.95 287.26,309.33 288.17,307.51 289.08,305.52 289.99,303.38 290.90,301.11 291.81,298.71 292.72,296.22 293.63,293.65 294.54,291.00 295.46,288.31 296.37,285.57 297.28,282.81 298.19,280.04 299.10,277.27 300.01,274.50 300.92,271.76 301.83,269.04 302.74,266.36 303.66,263.73 304.57,261.14 305.48,258.62 306.39,256.15 307.30,253.76 308.21,251.43 309.12,249.18 310.03,247.01 310.94,244.91 311.86,242.89 312.77,240.96 313.68,239.10 314.59,237.32 315.50,235.63 316.41,234.01 317.32,232.47 318.23,231.00 319.14,229.61 320.06,228.30 320.97,227.05 321.88,225.87 322.79,224.76 323.70,223.71 324.61,222.72 325.52,221.79 326.43,220.92 327.34,220.10 328.26,219.33 329.17,218.61 330.08,217.93 330.99,217.30 331.90,216.71 332.81,216.16 333.72,215.65 334.63,215.17 335.54,214.73 336.46,214.31 337.37,213.93 338.28,213.57 339.19,213.24 340.10,212.93 341.01,212.65 341.92,212.39 342.83,212.14 343.74,211.92 344.66,211.71 345.57,211.53 346.48,211.35 347.39,211.20 348.30,211.05 349.21,210.92 350.12,210.80 351.03,210.69 351.94,210.60 352.86,210.51 353.77,210.44 354.68,210.37 355.59,210.31 356.50,210.27 357.41,210.22 358.32,210.19 359.23,210.16 360.14,210.15 361.06,210.13 361.97,210.13 362.88,210.13 363.79,210.13 364.70,210.14 365.61,210.16 366.52,210.18 367.43,210.20 368.34,210.23 369.26,210.26 370.17,210.30 371.08,210.34 371.99,210.39 372.90,210.44 373.81,210.49 374.72,210.55 375.63,210.61 376.54,210.67 377.46,210.73 378.37,210.80 379.28,210.87 380.19,210.94 381.10,211.02 382.01,211.09 382.92,211.17 383.83,211.25 384.74,211.34 385.66,211.42 386.57,211.51 387.48,211.59 388.39,211.68 389.30,211.77 390.21,211.86 391.12,211.95 392.03,212.04 392.94,212.13 393.86,212.22 394.77,212.31 395.68,212.41 396.59,212.50 397.50,212.59 398.41,212.68 399.32,212.77 400.23,212.87 401.14,212.96 402.06,213.05 402.97,213.13 403.88,213.22 404.79,213.31 405.70,213.39 406.61,213.48 407.52,213.56 408.43,213.64 409.34,213.72 410.26,213.80 411.17,213.87 412.08,213.95 412.99,214.02 413.90,214.09 414.81,214.15 415.72,214.22 416.63,214.28 417.54,214.33 418.46,214.39 419.37,214.44 420.28,214.49 421.19,214.53 422.10,214.58 423.01,214.61 423.92,214.65 424.83,214.68 425.74,214.70 426.66,214.73 427.57,214.74 428.48,214.76 429.39,214.77 430.30,214.77 431.21,214.77 432.12,214.76 433.03,214.75 433.94,214.74 434.86,214.72 435.77,214.69 436.68,214.66 437.59,214.62 438.50,214.58 438.50,271.96 437.59,271.98 436.68,272.00 435.77,272.01 434.86,272.02 433.94,272.03 433.03,272.04 432.12,272.04 431.21,272.04 430.30,272.04 429.39,272.04 428.48,272.04 427.57,272.03 426.66,272.03 425.74,272.02 424.83,272.00 423.92,271.99 423.01,271.98 422.10,271.96 421.19,271.94 420.28,271.92 419.37,271.90 418.46,271.88 417.54,271.86 416.63,271.83 415.72,271.81 414.81,271.78 413.90,271.75 412.99,271.72 412.08,271.69 411.17,271.66 410.26,271.63 409.34,271.60 408.43,271.56 407.52,271.53 406.61,271.49 405.70,271.45 404.79,271.42 403.88,271.38 402.97,271.34 402.06,271.31 401.14,271.27 400.23,271.23 399.32,271.19 398.41,271.15 397.50,271.11 396.59,271.07 395.68,271.03 394.77,270.99 393.86,270.95 392.94,270.91 392.03,270.87 391.12,270.83 390.21,270.80 389.30,270.76 388.39,270.72 387.48,270.68 386.57,270.65 385.66,270.61 384.74,270.57 383.83,270.54 382.92,270.50 382.01,270.47 381.10,270.44 380.19,270.40 379.28,270.37 378.37,270.34 377.46,270.31 376.54,270.29 375.63,270.26 374.72,270.23 373.81,270.21 372.90,270.19 371.99,270.17 371.08,270.15 370.17,270.13 369.26,270.11 368.34,270.10 367.43,270.09 366.52,270.08 365.61,270.07 364.70,270.06 363.79,270.06 362.88,270.05 361.97,270.05 361.06,270.06 360.14,270.06 359.23,270.07 358.32,270.08 357.41,270.10 356.50,270.11 355.59,270.13 354.68,270.16 353.77,270.19 352.86,270.22 351.94,270.26 351.03,270.30 350.12,270.34 349.21,270.39 348.30,270.45 347.39,270.51 346.48,270.58 345.57,270.65 344.66,270.73 343.74,270.82 342.83,270.92 341.92,271.02 341.01,271.14 340.10,271.26 339.19,271.39 338.28,271.53 337.37,271.68 336.46,271.85 335.54,272.03 334.63,272.22 333.72,272.42 332.81,272.64 331.90,272.88 330.99,273.13 330.08,273.40 329.17,273.69 328.26,274.00 327.34,274.33 326.43,274.68 325.52,275.05 324.61,275.45 323.70,275.88 322.79,276.32 321.88,276.80 320.97,277.31 320.06,277.84 319.14,278.41 318.23,279.00 317.32,279.63 316.41,280.29 315.50,280.98 314.59,281.71 313.68,282.47 312.77,283.27 311.86,284.10 310.94,284.96 310.03,285.86 309.12,286.79 308.21,287.76 307.30,288.75 306.39,289.78 305.48,290.84 304.57,291.92 303.66,293.03 302.74,294.15 301.83,295.30 300.92,296.47 300.01,297.64 299.10,298.83 298.19,300.02 297.28,301.21 296.37,302.39 295.46,303.56 294.54,304.72 293.63,305.85 292.72,306.95 291.81,308.02 290.90,309.05 289.99,310.02 289.08,310.94 288.17,311.79 287.26,312.57 286.34,313.27 285.43,313.87 284.52,314.37 283.61,314.74 282.70,314.97 282.36,315.00" fill="#ffcaca" stroke="#e2a9b0" stroke-width="0.6"/>
<polyline points="282.36,315.00 282.70,314.95 283.61,314.57 284.52,313.94 285.43,313.11 286.34,312.11 287.26,310.95 288.17,309.65 289.08,308.23 289.99,306.70 290.90,305.08 291.81,303.37 292.72,301.59 293.63,299.75 294.54,297.86 295.46,295.93 296.37,293.98 297.28,292.01 298.19,290.03 299.10,288.05 300.01,286.07 300.92,284.11 301.83,282.17 302.74,280.26 303.66,278.38 304.57,276.53 305.48,274.73 306.39,272.97 307.30,271.26 308.21,269.59 309.12,267.99 310.03,266.43 310.94,264.94 311.86,263.49 312.77,262.11 313.68,260.78 314.59,259.52 315.50,258.30 316.41,257.15 317.32,256.05 318.23,255.00 319.14,254.01 320.06,253.07 320.97,252.18 321.88,251.34 322.79,250.54 323.70,249.79 324.61,249.09 325.52,248.42 326.43,247.80 327.34,247.21 328.26,246.66 329.17,246.15 330.08,245.67 330.99,245.22 331.90,244.80 332.81,244.40 333.72,244.04 334.63,243.69 335.54,243.38 336.46,243.08 337.37,242.81 338.28,242.55 339.19,242.31 340.10,242.09 341.01,241.89 341.92,241.70 342.83,241.53 343.74,241.37 344.66,241.22 345.57,241.09 346.48,240.97 347.39,240.85 348.30,240.75 349.21,240.66 350.12,240.57 351.03,240.50 351.94,240.43 352.86,240.37 353.77,240.31 354.68,240.27 355.59,240.22 356.50,240.19 357.41,240.16 358.32,240.14 359.23,240.12 360.14,240.10 361.06,240.09 361.97,240.09 362.88,240.09 363.79,240.09 364.70,240.10 365.61,240.11 366.52,240.13 367.43,240.14 368.34,240.16 369.26,240.19 370.17,240.22 371.08,240.25 371.99,240.28 372.90,240.31 373.81,240.35 374.72,240.39 375.63,240.43 376.54,240.48 377.46,240.52 378.37,240.57 379.28,240.62 380.19,240.67 381.10,240.73 382.01,240.78 382.92,240.84 383.83,240.90 384.74,240.95 385.66,241.01 386.57,241.08 387.48,241.14 388.39,241.20 389.30,241.26 390.21,241.33 391.12,241.39 392.03,241.46 392.94,241.52 393.86,241.59 394.77,241.65 395.68,241.72 396.59,241.78 397.50,241.85 398.41,241.92 399.32,241.98 400.23,242.05 401.14,242.11 402.06,242.18 402.97,242.24 403.88,242.30 404.79,242.36 405.70,242.42 406.61,242.48 407.52,242.54 408.43,242.60 409.34,242.66 410.26,242.71 411.17,242.77 412.08,242.82 412.99,242.87 413.90,242.92 414.81,242.97 415.72,243.01 416.63,243.06 417.54,243.10 418.46,243.14 419.37,243.17 420.28,243.21 421.19,243.24 422.10,243.27 423.01,243.30 423.92,243.32 424.83,243.34 425.74,243.36 426.66,243.38 427.57,243.39 428.48,243.40 429.39,243.40 430.30,243.41 431.21,243.41 432.12,243.40 433.03,243.39 433.94,243.38 434.86,243.37 435.77,243.35 436.68,243.33 437.59,243.30 438.50,243.27" fill="none" stroke="#b53a4c" stroke-width="0.75"/>
<path d="M274.50,192.00 V315.50 M282.36,315.00 H439.00" fill="none" stroke="#9a9a9a" stroke-width="1"/>
<path d="M275.00,315.00 H282.36" fill="none" stroke="#a8989c" stroke-width="1"/>
<path d="M310.94,315.00 v-1.8 M347.39,315.00 v-1.8 M383.83,315.00 v-1.8 M420.28,315.00 v-1.8 M274.50,253.50 h1.8 M274.50,192.00 h1.8" stroke="#555" stroke-width="0.8" fill="none"/>
<text x="274.50" y="334.40" text-anchor="middle" class="t">0</text>
<text x="310.94" y="334.40" text-anchor="middle" class="t">20</text>
<text x="347.39" y="334.40" text-anchor="middle" class="t">40</text>
<text x="383.83" y="334.40" text-anchor="middle" class="t">60</text>
<text x="420.28" y="334.40" text-anchor="middle" class="t">80</text>
<text x="269.60" y="320.70" text-anchor="end" class="t">0</text>
<text x="269.60" y="259.20" text-anchor="end" class="t">2000</text>
<text x="269.60" y="197.70" text-anchor="end" class="t">4000</text>
<polygon points="500.61,315.00 501.52,314.54 502.43,313.64 503.34,312.45 504.26,311.02 505.17,309.40 506.08,307.61 506.99,305.68 507.90,303.64 508.81,301.50 509.72,299.29 510.63,297.02 511.54,294.71 512.46,292.37 513.37,290.01 514.28,287.65 515.19,285.30 516.10,282.97 517.01,280.66 517.92,278.38 518.83,276.15 519.74,273.97 520.66,271.83 521.57,269.76 522.48,267.75 523.39,265.80 524.30,263.92 525.21,262.10 526.12,260.36 527.03,258.68 527.94,257.08 528.86,255.55 529.77,254.09 530.68,252.69 531.59,251.37 532.50,250.11 533.41,248.92 534.32,247.79 535.23,246.73 536.14,245.72 537.06,244.77 537.97,243.88 538.88,243.04 539.79,242.25 540.70,241.51 541.61,240.82 542.52,240.17 543.43,239.56 544.34,239.00 545.26,238.47 546.17,237.97 547.08,237.51 547.99,237.09 548.90,236.69 549.81,236.32 550.72,235.97 551.63,235.65 552.54,235.36 553.46,235.08 554.37,234.83 555.28,234.59 556.19,234.38 557.10,234.18 558.01,233.99 558.92,233.82 559.83,233.67 560.74,233.53 561.66,233.39 562.57,233.27 563.48,233.17 564.39,233.07 565.30,232.98 566.21,232.89 567.12,232.82 568.03,232.76 568.94,232.70 569.86,232.64 570.77,232.60 571.68,232.56 572.59,232.53 573.50,232.50 574.41,232.47 575.32,232.46 576.23,232.44 577.14,232.43 578.06,232.43 578.97,232.43 579.88,232.43 580.79,232.43 581.70,232.44 582.61,232.45 583.52,232.47 584.43,232.49 585.34,232.51 586.26,232.53 587.17,232.56 588.08,232.59 588.99,232.62 589.90,232.65 590.81,232.69 591.72,232.73 592.63,232.76 593.54,232.81 594.46,232.85 595.37,232.89 596.28,232.94 597.19,232.99 598.10,233.04 599.01,233.09 599.92,233.14 600.83,233.19 601.74,233.24 602.66,233.30 603.57,233.35 604.48,233.41 605.39,233.47 606.30,233.53 607.21,233.59 608.12,233.64 609.03,233.70 609.94,233.76 610.86,233.82 611.77,233.89 612.68,233.95 613.59,234.01 614.50,234.07 615.41,234.13 616.32,234.19 617.23,234.25 618.14,234.31 619.06,234.37 619.97,234.43 620.88,234.49 621.79,234.55 622.70,234.60 623.61,234.66 624.52,234.72 625.43,234.77 626.34,234.83 627.26,234.88 628.17,234.93 629.08,234.99 629.99,235.04 630.90,235.08 631.81,235.13 632.72,235.18 633.63,235.22 634.54,235.27 635.46,235.31 636.37,235.35 637.28,235.38 638.19,235.42 639.10,235.45 640.01,235.49 640.92,235.52 641.83,235.54 642.74,235.57 643.66,235.59 644.57,235.61 645.48,235.63 646.39,235.65 647.30,235.66 648.21,235.67 649.12,235.68 650.03,235.68 650.94,235.69 651.86,235.69 652.77,235.68 653.68,235.68 654.59,235.67 655.50,235.65 655.50,280.99 654.59,281.00 653.68,281.00 652.77,281.01 651.86,281.01 650.94,281.01 650.03,281.01 649.12,281.01 648.21,281.00 647.30,281.00 646.39,280.99 645.48,280.99 644.57,280.98 643.66,280.97 642.74,280.96 641.83,280.95 640.92,280.94 640.01,280.92 639.10,280.91 638.19,280.89 637.28,280.88 636.37,280.86 635.46,280.85 634.54,280.83 633.63,280.81 632.72,280.79 631.81,280.77 630.90,280.75 629.99,280.73 629.08,280.71 628.17,280.69 627.26,280.66 626.34,280.64 625.43,280.62 624.52,280.59 623.61,280.57 622.70,280.54 621.79,280.52 620.88,280.50 619.97,280.47 619.06,280.44 618.14,280.42 617.23,280.39 616.32,280.37 615.41,280.34 614.50,280.31 613.59,280.29 612.68,280.26 611.77,280.24 610.86,280.21 609.94,280.18 609.03,280.16 608.12,280.13 607.21,280.11 606.30,280.08 605.39,280.06 604.48,280.03 603.57,280.01 602.66,279.99 601.74,279.96 600.83,279.94 599.92,279.92 599.01,279.89 598.10,279.87 597.19,279.85 596.28,279.83 595.37,279.81 594.46,279.79 593.54,279.77 592.63,279.76 591.72,279.74 590.81,279.72 589.90,279.71 588.99,279.69 588.08,279.68 587.17,279.67 586.26,279.66 585.34,279.65 584.43,279.64 583.52,279.63 582.61,279.62 581.70,279.62 580.79,279.61 579.88,279.61 578.97,279.61 578.06,279.61 577.14,279.61 576.23,279.62 575.32,279.62 574.41,279.63 573.50,279.64 572.59,279.65 571.68,279.67 570.77,279.69 569.86,279.70 568.94,279.73 568.03,279.75 567.12,279.78 566.21,279.81 565.30,279.85 564.39,279.89 563.48,279.93 562.57,279.97 561.66,280.03 560.74,280.08 559.83,280.14 558.92,280.21 558.01,280.28 557.10,280.36 556.19,280.45 555.28,280.54 554.37,280.64 553.46,280.75 552.54,280.87 551.63,280.99 550.72,281.13 549.81,281.28 548.90,281.44 547.99,281.61 547.08,281.79 546.17,281.99 545.26,282.20 544.34,282.43 543.43,282.67 542.52,282.93 541.61,283.21 540.70,283.51 539.79,283.82 538.88,284.16 537.97,284.52 537.06,284.90 536.14,285.31 535.23,285.74 534.32,286.20 533.41,286.68 532.50,287.19 531.59,287.73 530.68,288.30 529.77,288.89 528.86,289.52 527.94,290.18 527.03,290.86 526.12,291.58 525.21,292.33 524.30,293.11 523.39,293.91 522.48,294.75 521.57,295.61 520.66,296.50 519.74,297.41 518.83,298.35 517.92,299.31 517.01,300.28 516.10,301.27 515.19,302.27 514.28,303.28 513.37,304.29 512.46,305.30 511.54,306.30 510.63,307.30 509.72,308.27 508.81,309.22 507.90,310.13 506.99,311.01 506.08,311.83 505.17,312.60 504.26,313.29 503.34,313.91 502.43,314.42 501.52,314.80 500.61,315.00" fill="#ffcaca" stroke="#e2a9b0" stroke-width="0.6"/>
<polyline points="500.61,315.00 501.52,314.67 502.43,314.03 503.34,313.18 504.26,312.16 505.17,311.00 506.08,309.72 506.99,308.34 507.90,306.89 508.81,305.36 509.72,303.78 510.63,302.16 511.54,300.51 512.46,298.84 513.37,297.15 514.28,295.47 515.19,293.79 516.10,292.12 517.01,290.47 517.92,288.85 518.83,287.25 519.74,285.69 520.66,284.17 521.57,282.69 522.48,281.25 523.39,279.86 524.30,278.51 525.21,277.22 526.12,275.97 527.03,274.77 527.94,273.63 528.86,272.53 529.77,271.49 530.68,270.50 531.59,269.55 532.50,268.65 533.41,267.80 534.32,267.00 535.23,266.23 536.14,265.52 537.06,264.84 537.97,264.20 538.88,263.60 539.79,263.04 540.70,262.51 541.61,262.01 542.52,261.55 543.43,261.12 544.34,260.71 545.26,260.33 546.17,259.98 547.08,259.65 547.99,259.35 548.90,259.06 549.81,258.80 550.72,258.55 551.63,258.32 552.54,258.11 553.46,257.92 554.37,257.74 555.28,257.57 556.19,257.41 557.10,257.27 558.01,257.14 558.92,257.02 559.83,256.91 560.74,256.80 561.66,256.71 562.57,256.62 563.48,256.55 564.39,256.48 565.30,256.41 566.21,256.35 567.12,256.30 568.03,256.25 568.94,256.21 569.86,256.17 570.77,256.14 571.68,256.11 572.59,256.09 573.50,256.07 574.41,256.05 575.32,256.04 576.23,256.03 577.14,256.02 578.06,256.02 578.97,256.02 579.88,256.02 580.79,256.02 581.70,256.03 582.61,256.04 583.52,256.05 584.43,256.06 585.34,256.08 586.26,256.10 587.17,256.11 588.08,256.13 588.99,256.16 589.90,256.18 590.81,256.21 591.72,256.23 592.63,256.26 593.54,256.29 594.46,256.32 595.37,256.35 596.28,256.39 597.19,256.42 598.10,256.45 599.01,256.49 599.92,256.53 600.83,256.56 601.74,256.60 602.66,256.64 603.57,256.68 604.48,256.72 605.39,256.76 606.30,256.80 607.21,256.85 608.12,256.89 609.03,256.93 609.94,256.97 610.86,257.02 611.77,257.06 612.68,257.10 613.59,257.15 614.50,257.19 615.41,257.23 616.32,257.28 617.23,257.32 618.14,257.36 619.06,257.41 619.97,257.45 620.88,257.49 621.79,257.53 622.70,257.57 623.61,257.62 624.52,257.66 625.43,257.70 626.34,257.73 627.26,257.77 628.17,257.81 629.08,257.85 629.99,257.88 630.90,257.92 631.81,257.95 632.72,257.98 633.63,258.02 634.54,258.05 635.46,258.08 636.37,258.11 637.28,258.13 638.19,258.16 639.10,258.18 640.01,258.20 640.92,258.23 641.83,258.25 642.74,258.26 643.66,258.28 644.57,258.30 645.48,258.31 646.39,258.32 647.30,258.33 648.21,258.34 649.12,258.34 650.03,258.35 650.94,258.35 651.86,258.35 652.77,258.34 653.68,258.34 654.59,258.33 655.50,258.32" fill="none" stroke="#b53a4c" stroke-width="0.75"/>
<path d="M491.50,192.00 V315.50 M500.61,315.00 H656.00" fill="none" stroke="#9a9a9a" stroke-width="1"/>
<path d="M492.00,315.00 H500.61" fill="none" stroke="#a8989c" stroke-width="1"/>
<path d="M527.94,315.00 v-1.8 M564.39,315.00 v-1.8 M600.83,315.00 v-1.8 M637.28,315.00 v-1.8 M491.50,253.50 h1.8 M491.50,192.00 h1.8" stroke="#555" stroke-width="0.8" fill="none"/>
<text x="491.50" y="334.40" text-anchor="middle" class="t">0</text>
<text x="527.94" y="334.40" text-anchor="middle" class="t">20</text>
<text x="564.39" y="334.40" text-anchor="middle" class="t">40</text>
<text x="600.83" y="334.40" text-anchor="middle" class="t">60</text>
<text x="637.28" y="334.40" text-anchor="middle" class="t">80</text>
<text x="486.60" y="320.70" text-anchor="end" class="t">0</text>
<text x="486.60" y="259.20" text-anchor="end" class="t">2000</text>
<text x="486.60" y="197.70" text-anchor="end" class="t">4000</text>
<text x="113.75" y="14.1" textLength="51.5" lengthAdjust="spacing" class="s">780 nm</text>
<text x="330.75" y="14.1" textLength="51.5" lengthAdjust="spacing" class="s">790 nm</text>
<text x="547.75" y="14.1" textLength="51.5" lengthAdjust="spacing" class="s">850 nm</text>
<text transform="translate(670.6,52.60) rotate(90)" textLength="76" lengthAdjust="spacing" class="s3">New Moon</text>
<text transform="translate(670.6,224.35) rotate(90)" textLength="71.5" lengthAdjust="spacing" class="s3">Full Moon</text>
<text transform="translate(16.8,233.00) rotate(-90)" textLength="138" lengthAdjust="spacing" class="s2">Photon Rate (Hz)</text>
<text x="312.35" y="348.7" class="s2"><tspan textLength="77" lengthAdjust="spacing">Altitude (</tspan><tspan dx="-1.6" dy="-5.8" font-size="11.5" font-style="italic">o</tspan><tspan dx="1.8" dy="5.8">)</tspan></text>
</svg>
</body></html>
